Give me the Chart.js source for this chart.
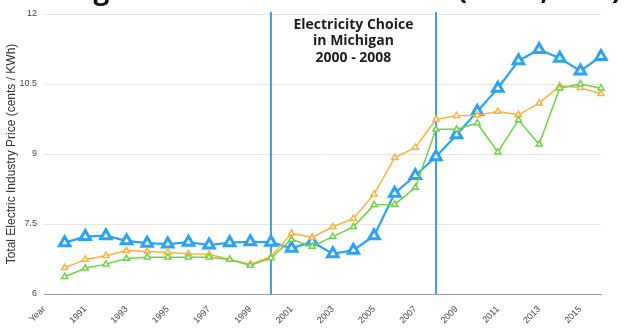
<!DOCTYPE html>
<html>
<head>
<meta charset="utf-8">
<script src="https://cdn.jsdelivr.net/npm/chart.js@4.4.1/dist/chart.umd.min.js"></script>
<style>
  html, body { margin: 0; padding: 0; background: #fff; overflow: hidden; }
  #box { position: relative; width: 640px; height: 336px; }
</style>
</head>
<body>
<div id="box"><canvas id="price-chart" width="640" height="336"></canvas></div>
<script>
// years on the x axis ("Year" is the header cell of the sheet)
const years = ["Year", "1990", "1991", "1992", "1993", "1994", "1995", "1996", "1997", "1998",
  "1999", "2000", "2001", "2002", "2003", "2004", "2005", "2006", "2007", "2008",
  "2009", "2010", "2011", "2012", "2013", "2014", "2015", "2016"];

// cents / kWh
const michigan = [null, 7.10, 7.23, 7.25, 7.14, 7.09, 7.07, 7.11, 7.05, 7.10,
  7.12, 7.11, 6.98, 7.12, 6.86, 6.94, 7.25, 8.16, 8.54, 8.94,
  9.41, 9.91, 10.41, 11.00, 11.24, 11.05, 10.78, 11.09];
const usAverage = [null, 6.56, 6.74, 6.82, 6.93, 6.91, 6.89, 6.86, 6.85, 6.74,
  6.64, 6.80, 7.30, 7.21, 7.44, 7.62, 8.14, 8.92, 9.14, 9.74,
  9.82, 9.83, 9.91, 9.84, 10.09, 10.46, 10.42, 10.29];
const midwest = [null, 6.37, 6.55, 6.64, 6.76, 6.79, 6.79, 6.79, 6.79, 6.74,
  6.61, 6.77, 7.17, 7.02, 7.23, 7.44, 7.91, 7.92, 8.28, 9.53,
  9.53, 9.66, 9.04, 9.73, 9.21, 10.41, 10.50, 10.41];

const yTicks = [6, 7.5, 9, 10.5, 12];

const chartTitle = "Large Industrial Power Rates (MISO, USA)";

// choice period markers
const choiceStart = "2000";
const choiceEnd = "2008";
const choiceText = ["Electricity Choice", "in Michigan", "2000 - 2008"];

// big heading, sits at the very top edge
const headingPlugin = {
  id: "heading",
  afterDraw(chart) {
    const ctx = chart.ctx;
    ctx.save();
    ctx.fillStyle = "#111";
    ctx.font = "bold 28px 'Open Sans'";
    ctx.textAlign = "left";
    ctx.textBaseline = "alphabetic";
    ctx.fillText(chartTitle, 48, -1.5);
    ctx.restore();
  },
};

// vertical lines + caption for the choice years
const choicePlugin = {
  id: "choice",
  beforeDatasetsDraw(chart) {
    const { ctx, chartArea, scales } = chart;
    const x1 = scales.x.getPixelForValue(years.indexOf(choiceStart));
    const x2 = scales.x.getPixelForValue(years.indexOf(choiceEnd));
    ctx.save();
    ctx.strokeStyle = "#3d9ee2";
    ctx.lineWidth = 2;
    [x1, x2].forEach((x) => {
      ctx.beginPath();
      ctx.moveTo(x, chartArea.top - 2);
      ctx.lineTo(x, chartArea.bottom);
      ctx.stroke();
    });
    ctx.fillStyle = "#1d1d1d";
    ctx.font = "bold 14px 'Open Sans'";
    ctx.textAlign = "center";
    ctx.textBaseline = "middle";
    choiceText.forEach((t, i) => {
      ctx.fillText(t, (x1 + x2) / 2, chartArea.top + 11 + i * 16.5);
    });
    ctx.restore();
  },
};

function makeSet(label, data, color, big) {
  return {
    label: label,
    data: data,
    borderColor: color,
    backgroundColor: color,
    borderWidth: big ? 2.2 : 1.5,
    pointStyle: "triangle",
    pointRadius: big ? 6 : 3.5,
    pointBorderWidth: big ? 3 : 1.5,
    pointBackgroundColor: "#fff",
    pointBorderColor: color,
    tension: 0,
  };
}

new Chart(document.getElementById("price-chart"), {
  type: "line",
  data: {
    labels: years,
    datasets: [
      makeSet("Midwest", midwest, "#6fd24a", false),
      makeSet("U.S.", usAverage, "#fbb23c", false),
      makeSet("Michigan", michigan, "#2ba2f4", true),
    ],
  },
  options: {
    responsive: false,
    animation: false,
    layout: { padding: { left: 0, right: 39, top: 14, bottom: 0 } },
    plugins: {
      legend: { display: false },
      tooltip: { enabled: false },
    },
    scales: {
      x: {
        grid: { display: false },
        border: { display: true, color: "#9a9a9a", width: 1 },
        ticks: {
          autoSkip: false,
          minRotation: 45,
          maxRotation: 45,
          color: "#444",
          font: { family: "'Liberation Sans'", size: 9 },
          padding: 2,
          callback: (v, i) => (i % 2 === 0 ? years[i] : ""),
        },
        afterFit(scale) { scale.height = 42; },
      },
      y: {
        min: 6,
        max: 12,
        afterBuildTicks(scale) { scale.ticks = yTicks.map((v) => ({ value: v })); },
        grid: { color: "#e6e6e6", lineWidth: 1, drawTicks: false },
        border: { display: false },
        ticks: {
          color: "#444",
          font: { family: "'Liberation Sans'", size: 9 },
          padding: 7,
        },
        title: {
          display: true,
          text: "Total Electric Industry Price (cents / KWh)",
          color: "#333",
          font: { family: "'Liberation Sans'", size: 12 },
          padding: { top: 4, bottom: 0 },
        },
        afterFit(scale) { scale.width = 44; },
      },
    },
  },
  plugins: [choicePlugin, headingPlugin],
});
</script>
</body>
</html>
